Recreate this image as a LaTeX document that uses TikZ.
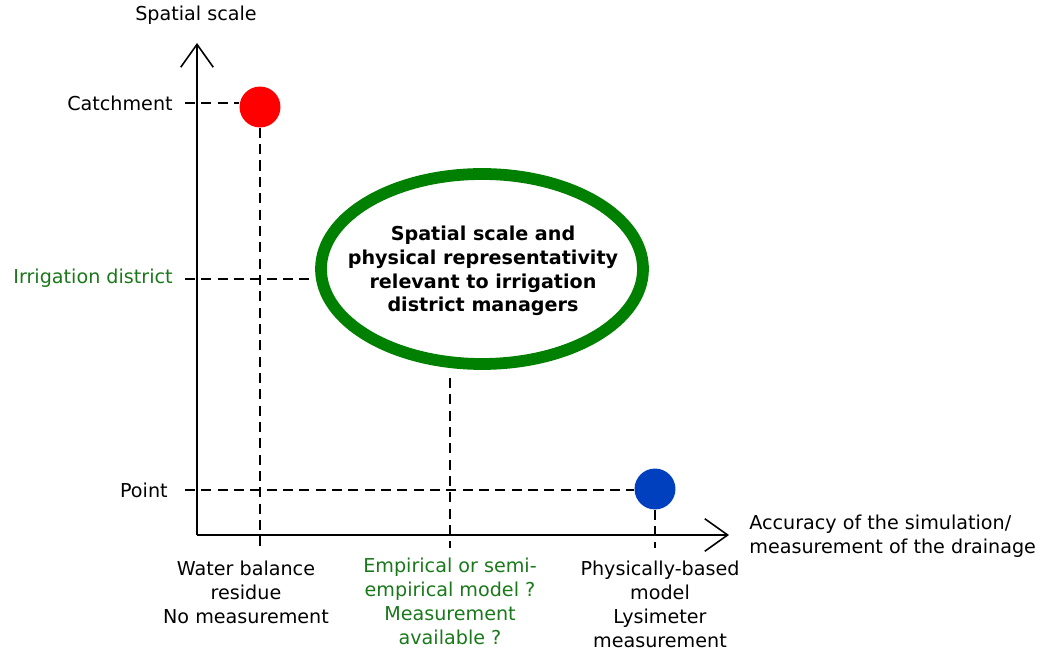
\documentclass[tikz,border=0pt]{standalone}
\usepackage{fontspec}
\setmainfont{DejaVu Sans}
\usetikzlibrary{positioning, arrows.meta}

\definecolor{ringgreen}{RGB}{0,128,0}
\definecolor{labelgreen}{RGB}{25,120,25}
\definecolor{dotblue}{RGB}{0,64,190}

\begin{document}
\begin{tikzpicture}[x=0.02cm, y=-0.02cm,
    every node/.style={font=\fontsize{10.9}{13.5}\selectfont, inner sep=0pt},
    axis/.style={line width=1.1pt, -{Straight Barb[length=13pt, width=18.5pt, line width=0.9pt]}},
    guide/.style={line width=0.75pt, dash pattern=on 5.7pt off 3.6pt},
    dot/.style={circle, minimum width=23.3pt, minimum height=21.8pt, inner sep=0pt}]
    \useasboundingbox (0,0) rectangle (1041,651);

    % axes
    \coordinate (origin) at (197,535);
    \draw[axis] (origin) -- (197,43);
    \draw[axis] (origin) -- (729,535);
    \node (yname) at (196,15) {Spatial scale};
    \node[align=left, anchor=west] (xname) at (749,536) {Accuracy of the simulation/\\measurement of the drainage};

    % scale levels
    \node[anchor=east] (catch) at (173,103) {Catchment};
    \node[anchor=east, text=labelgreen] (district) at (173,278) {Irrigation district};
    \node[anchor=east] (point) at (168,490) {Point};
    \coordinate (tcatch) at (185,103);
    \coordinate (tdistrict) at (185,279);
    \coordinate (tpoint) at (185,490);

    % markers and the target zone
    \node[dot, fill=red] (wb) at (260,107) {};
    \node[dot, fill=dotblue] (pb) at (655,489) {};
    \draw[ringgreen, line width=6.7pt, fill=white] (482,269) ellipse (161 and 95);
    \node[align=center, font=\fontsize{10.9}{13.5}\selectfont\bfseries] (zone) at (483,271)
        {Spatial scale and\\physical representativity\\relevant to irrigation\\district managers};
    \coordinate (zleft) at (310,279);
    \coordinate (zbottom) at (450,378);

    % method labels
    \node[align=center, anchor=north] (wblab) at (246,561) {Water balance\\residue\\No measurement};
    \node[align=center, anchor=north, text=labelgreen] (emlab) at (450,558) {Empirical or semi-\\empirical model ?\\Measurement\\available ?};
    \node[align=center, anchor=north] (pblab) at (660,561) {Physically-based\\model\\Lysimeter\\measurement};
    \coordinate (bottom) at (0,548);

    % guide lines
    \draw[guide] (tcatch) -- (tcatch -| wb.west);
    \draw[guide] (tdistrict) -- (zleft);
    \draw[guide] (tpoint) -- (tpoint -| pb.west);
    \draw[guide] (wb.south) -- (wb.south |- bottom);
    \draw[guide] (zbottom) -- (zbottom |- bottom);
    \draw[guide] (pb.south) -- (pb.south |- bottom);
\end{tikzpicture}
\end{document}
